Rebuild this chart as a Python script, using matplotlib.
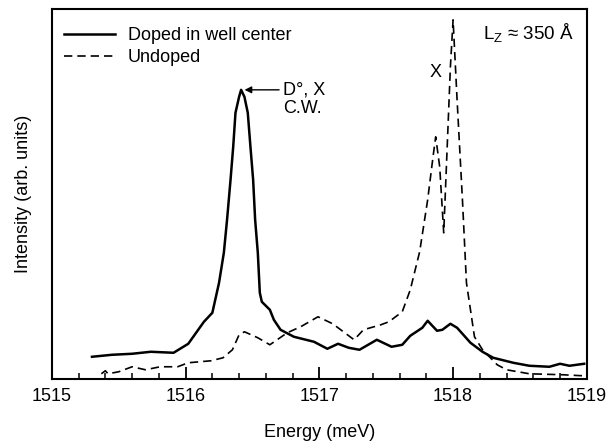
import numpy as np
import matplotlib.pyplot as plt
from matplotlib.ticker import MultipleLocator

plt.rcParams['font.family'] = ['Liberation Sans', 'DejaVu Sans']
plt.rcParams['mathtext.default'] = 'regular'

# ---- data (energy in meV, intensity arb.) ----
doped_E = [1515.30, 1515.45, 1515.60, 1515.74, 1515.91, 1516.02, 1516.137, 1516.20,
           1516.25, 1516.286, 1516.31, 1516.336, 1516.356, 1516.373, 1516.40, 1516.415,
           1516.44, 1516.465, 1516.485, 1516.505, 1516.52, 1516.54, 1516.555, 1516.57,
           1516.63, 1516.66, 1516.71, 1516.81, 1516.96, 1517.06,
           1517.14, 1517.22, 1517.30, 1517.43, 1517.54, 1517.62, 1517.68, 1517.77,
           1517.81, 1517.88, 1517.92, 1517.98, 1518.03, 1518.13, 1518.22, 1518.30,
           1518.45, 1518.57, 1518.72, 1518.80, 1518.87, 1518.98]
doped_I = [22, 24, 25, 27, 26, 35, 57, 66,
           96, 126, 159, 199, 232, 266, 282, 289,
           282, 266, 232, 199, 159, 126, 86, 77,
           69, 59, 49, 42, 37, 30,
           35, 31, 29, 39, 32, 34, 43, 51,
           58, 48, 49, 55, 51, 36, 27, 21,
           16, 13, 12, 15, 13, 15]

undoped_E = [1515.37, 1515.40, 1515.42, 1515.50, 1515.60, 1515.70, 1515.81, 1515.94,
             1516.02, 1516.19, 1516.28, 1516.35, 1516.40, 1516.44, 1516.54, 1516.63,
             1516.76, 1516.86, 1516.99, 1517.10, 1517.20, 1517.26, 1517.33, 1517.46,
             1517.52, 1517.62, 1517.68, 1517.75, 1517.81, 1517.85, 1517.87, 1517.90,
             1517.93, 1517.95, 1517.98, 1518.00, 1518.03, 1518.07, 1518.10, 1518.16,
             1518.22, 1518.33, 1518.40, 1518.57, 1518.82, 1518.97]
undoped_I = [5, 8, 5, 7, 12, 9, 12, 12,
             16, 18, 21, 29, 44, 47, 41, 34,
             46, 52, 62, 55, 45, 39, 49, 54,
             57, 67, 89, 127, 179, 222, 242, 212,
             146, 212, 312, 359, 279, 179, 96, 42,
             29, 14, 9, 5, 4, 3]

fig = plt.figure(figsize=(6.1, 4.43), dpi=100)
ax = fig.add_axes([0.085, 0.145, 0.877, 0.835])

ax.plot(doped_E, doped_I, color='black', lw=1.8, label='Doped in well center')
ax.plot(undoped_E, undoped_I, color='black', lw=1.2, linestyle=(0, (5, 3)), label='Undoped')

ax.set_xlim(1515, 1519)
ax.set_ylim(0, 370)
ax.xaxis.set_major_locator(MultipleLocator(1))
ax.xaxis.set_minor_locator(MultipleLocator(0.2))
ax.set_yticks([])
ax.tick_params(axis='x', which='major', direction='in', length=8.5, width=1.3,
               labelsize=13, pad=7)
ax.tick_params(axis='x', which='minor', direction='in', length=4.3, width=1.1)
for s in ax.spines.values():
    s.set_linewidth(1.5)

ax.set_xlabel('Energy (meV)', fontsize=13, labelpad=13)
ax.set_ylabel('Intensity (arb. units)', fontsize=13, labelpad=14)

ax.legend(loc='upper left', bbox_to_anchor=(0.0, 0.985), frameon=False, fontsize=13,
          handlelength=2.8, borderaxespad=0.3, labelspacing=0.3, handletextpad=0.7)

# annotations
ax.annotate('', xy=(1516.42, 289), xytext=(1516.72, 289),
            arrowprops=dict(arrowstyle='-|>', color='black', lw=1.0, mutation_scale=10))
ax.text(1516.73, 289, 'D°, X', fontsize=13, va='center', ha='left')
ax.text(1516.73, 270, 'C.W.', fontsize=13, va='center', ha='left')
ax.text(1517.866, 306, 'X', fontsize=13, va='center', ha='center')
ax.text(1518.90, 346, 'L$_Z$ ≈ 350 Å', fontsize=13.5, va='center', ha='right')

fig.savefig('out.png', dpi=100)
